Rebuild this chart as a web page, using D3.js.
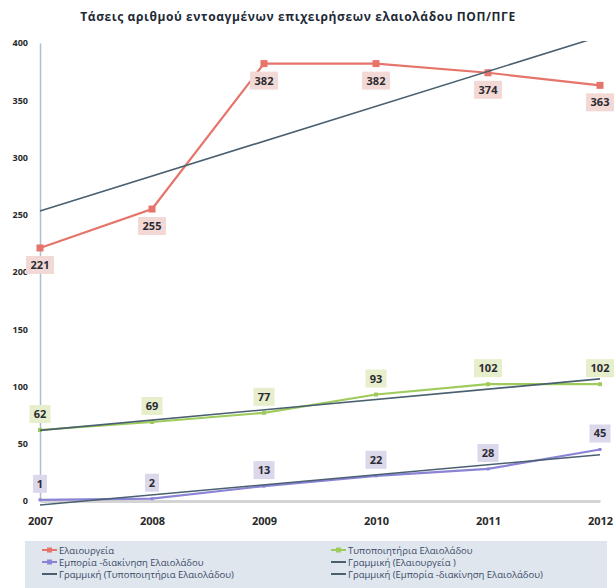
<!DOCTYPE html>
<html>
<head>
<meta charset="utf-8">
<script src="https://cdn.jsdelivr.net/npm/d3@7"></script>
<style>
  body { margin: 0; background: #fff; }
  text { font-family: "Open Sans", "DejaVu Sans", sans-serif; }
</style>
</head>
<body>
<svg id="chart" width="616" height="588"></svg>
<script>
// chart data
let years = [2007, 2008, 2009, 2010, 2011, 2012];
let yTicks = [0, 50, 100, 150, 200, 250, 300, 350, 400];
let elaiourgeia = [221, 255, 382, 382, 374, 363];
let typopoiitiria = [62, 69, 77, 93, 102, 102];
let emporia = [1, 2, 13, 22, 28, 45];
let titleText = 'Τάσεις αριθμού εντοαγμένων επιχειρήσεων ελαιολάδου ΠΟΠ/ΠΓΕ';

let series = [
    {name: 'Ελαιουργεία', values: elaiourgeia, color: '#e6746a', labelFill: '#f3d9d5', below: true, marker: 7},
    {name: 'Τυποποιητήρια Ελαιολάδου', values: typopoiitiria, color: '#9fcb5c', labelFill: '#e6eecb', below: false, marker: 4},
    {name: 'Εμπορία -διακίνηση Ελαιολάδου', values: emporia, color: '#8b83d6', labelFill: '#dcd8ec', below: false, marker: 3}
];

let svg = d3.select('#chart');

// scales
let xScale = d3.scaleLinear().domain([2007, 2012]).range([40, 600]);
let yScale = d3.scaleLinear().domain([0, 400]).range([501, 43]);

// title
svg.append('text')
    .attr('x', 298)
    .attr('y', 21)
    .attr('text-anchor', 'middle')
    .style('font-size', '12px')
    .style('font-weight', 'bold')
    .style('letter-spacing', '0.6px')
    .attr('fill', '#1e2a36')
    .text(titleText);

// y axis
let yAxis = svg.append('g')
    .attr('transform', 'translate(40,0)')
    .call(d3.axisLeft(yScale).tickValues(yTicks).tickSize(0).tickPadding(12));
yAxis.select('.domain').attr('stroke', '#aabfcf').attr('stroke-width', 1.5);
yAxis.selectAll('text')
    .style('font-size', '9px')
    .style('font-weight', 'bold')
    .attr('fill', '#2a2a2a');

// x axis
let xAxis = svg.append('g')
    .attr('transform', 'translate(0,501)')
    .call(d3.axisBottom(xScale).tickValues(years).tickFormat(d3.format('d')).tickSize(0).tickPadding(16));
xAxis.select('.domain').attr('stroke', '#d4d4d4').attr('stroke-width', 3);
xAxis.selectAll('text')
    .style('font-size', '11px')
    .style('font-weight', 'bold')
    .attr('fill', '#2a2a2a');

// clip for trend lines
svg.append('clipPath').attr('id', 'plotClip')
    .append('rect').attr('x', 38).attr('y', 41).attr('width', 570).attr('height', 470);

let line = d3.line()
    .x(function(d, i){ return xScale(years[i]); })
    .y(function(d){ return yScale(d); });

// series lines
series.forEach(function(s){
    svg.append('path')
        .datum(s.values)
        .attr('d', line)
        .attr('fill', 'none')
        .attr('stroke', s.color)
        .attr('stroke-width', 2.2);
    svg.selectAll('.mk')
        .data(s.values)
        .enter()
        .append('rect')
        .attr('x', function(d, i){ return xScale(years[i]) - s.marker / 2; })
        .attr('y', function(d){ return yScale(d) - s.marker / 2; })
        .attr('width', s.marker)
        .attr('height', s.marker)
        .attr('fill', s.color);
});

// linear trend lines (least squares fit, like the spreadsheet)
function linearFit(vals){
    let n = vals.length;
    let mx = d3.mean(vals, function(d, i){ return i; });
    let my = d3.mean(vals);
    let sxy = d3.sum(vals, function(d, i){ return (i - mx) * (d - my); });
    let sxx = d3.sum(vals, function(d, i){ return (i - mx) * (i - mx); });
    let slope = sxy / sxx;
    return [my - slope * mx, my + slope * (n - 1 - mx)];
}
let trendGrp = svg.append('g').attr('clip-path', 'url(#plotClip)');
series.forEach(function(s){
    let ends = linearFit(s.values);
    trendGrp.append('line')
        .attr('x1', xScale(years[0]))
        .attr('y1', yScale(ends[0]))
        .attr('x2', xScale(years[years.length - 1]))
        .attr('y2', yScale(ends[1]))
        .attr('stroke', '#4a6070')
        .attr('stroke-width', 1.6);
});

// data labels
series.forEach(function(s){
    let grp = svg.append('g');
    s.values.forEach(function(v, i){
        let cx = xScale(years[i]);
        let cy = yScale(v) + (s.below ? 17 : -16);
        let txt = String(v);
        let w = txt.length * 7 + 7;
        grp.append('rect')
            .attr('x', cx - w / 2)
            .attr('y', cy - 9)
            .attr('width', w)
            .attr('height', 18)
            .attr('fill', s.labelFill);
        grp.append('text')
            .attr('x', cx)
            .attr('y', cy + 4)
            .attr('text-anchor', 'middle')
            .style('font-size', '11px')
            .style('font-weight', 'bold')
            .attr('fill', '#2b2b33')
            .text(txt);
    });
});

// legend
let legendItems = [
    {name: 'Ελαιουργεία', color: '#e6746a', marker: true, col: 0, row: 0},
    {name: 'Τυποποιητήρια Ελαιολάδου', color: '#9fcb5c', marker: true, col: 1, row: 0},
    {name: 'Εμπορία -διακίνηση Ελαιολάδου', color: '#8b83d6', marker: true, col: 0, row: 1},
    {name: 'Γραμμική (Ελαιουργεία )', color: '#4a6070', marker: false, col: 1, row: 1},
    {name: 'Γραμμική (Τυποποιητήρια Ελαιολάδου)', color: '#4a6070', marker: false, col: 0, row: 2},
    {name: 'Γραμμική (Εμπορία -διακίνηση Ελαιολάδου)', color: '#4a6070', marker: false, col: 1, row: 2}
];
let legendGrp = svg.append('g').attr('class', 'legendGrp');
legendGrp.append('rect')
    .attr('x', 25).attr('y', 541).attr('width', 582).attr('height', 47)
    .attr('fill', '#dfe6ee');
let legendRows = legendGrp.selectAll('.legendItem')
    .data(legendItems)
    .enter()
    .append('g')
    .attr('transform', function(d){
        return 'translate(' + (d.col ? 331 : 42) + ',' + (550 + d.row * 12) + ')';
    });
legendRows.append('line')
    .attr('x1', 0).attr('x2', 15).attr('y1', 0).attr('y2', 0)
    .attr('stroke', function(d){ return d.color; })
    .attr('stroke-width', 2);
legendRows.filter(function(d){ return d.marker; })
    .append('rect')
    .attr('x', 5).attr('y', -2.5).attr('width', 5).attr('height', 5)
    .attr('fill', function(d){ return d.color; });
legendRows.append('text')
    .attr('x', 17)
    .attr('y', 3.5)
    .style('font-size', '9.5px')
    .attr('fill', '#3a4a66')
    .text(function(d){ return d.name; });
</script>
</body>
</html>
